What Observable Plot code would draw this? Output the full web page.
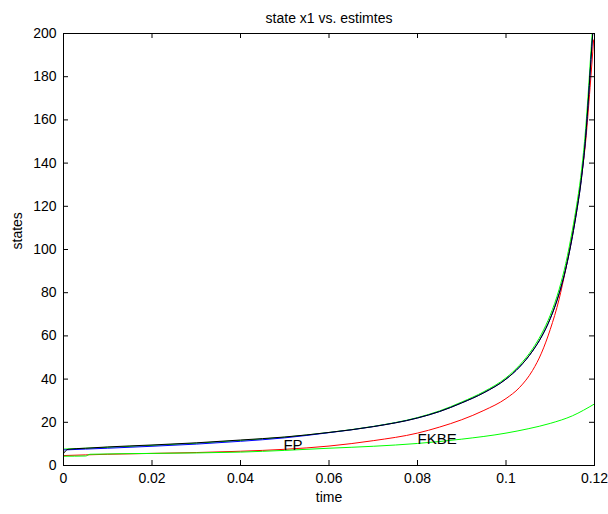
<!DOCTYPE html>
<html>
<head>
<meta charset="utf-8">
<script src="https://cdn.jsdelivr.net/npm/d3@7"></script>
<script src="https://cdn.jsdelivr.net/npm/@observablehq/plot@0.6"></script>
<style>
  html, body { margin: 0; padding: 0; background: #fff; }
  #chart { width: 608px; height: 514px; }
</style>
</head>
<body>
<div id="chart"></div>
<script>
const titleText = "state x1 vs. estimtes";
const xLabel = "time";
const yLabel = "states";
const xTicks = [0, 0.02, 0.04, 0.06, 0.08, 0.1, 0.12];
const xTickLabels = ["0", "0.02", "0.04", "0.06", "0.08", "0.1", "0.12"];
const yTicks = [0, 20, 40, 60, 80, 100, 120, 140, 160, 180, 200];

// true state (black)
const tTrue = [0, 0.001, 0.005, 0.01, 0.02, 0.03, 0.04, 0.05, 0.06, 0.07, 0.08, 0.085, 0.09, 0.095, 0.1, 0.103, 0.106, 0.108, 0.11, 0.112, 0.1135, 0.115, 0.116, 0.117, 0.118, 0.1187, 0.1192, 0.1196];
const vTrue = [5.5, 7.5, 8.0, 8.6, 9.5, 10.5, 11.8, 13.2, 15.3, 18.0, 22.0, 25.0, 29.0, 33.7, 40.0, 45.5, 53.0, 59.5, 68.0, 79.5, 91, 106, 118, 132, 152, 172, 188, 200];

// blue estimate
const tBlue = [0, 0.01, 0.02, 0.03, 0.04, 0.05, 0.06, 0.07, 0.08, 0.085, 0.09, 0.095, 0.1, 0.103, 0.106, 0.108, 0.11, 0.112, 0.1135, 0.115, 0.116, 0.117, 0.118, 0.1187, 0.1192, 0.1196];
const vBlue = [7.2, 8.0, 8.9, 9.9, 11.2, 12.8, 15.2, 18.0, 22.0, 25.0, 29.0, 33.7, 40.0, 45.5, 53.0, 59.5, 68.0, 79.5, 91, 106, 118, 132, 152, 172, 188, 200];

// upper green estimate (FP)
const tFP = [0, 0.01, 0.02, 0.03, 0.04, 0.05, 0.06, 0.07, 0.08, 0.085, 0.09, 0.095, 0.1, 0.103, 0.106, 0.108, 0.11, 0.112, 0.1135, 0.115, 0.116, 0.117, 0.118, 0.1187, 0.1192, 0.1195];
const vFP = [7.6, 8.4, 9.3, 10.3, 11.6, 13.1, 15.3, 18.1, 22.2, 25.3, 29.4, 34.2, 40.6, 46.3, 54.0, 60.8, 69.6, 81.5, 93.5, 109, 121, 135.5, 156, 176, 192, 201];

// red estimate
const tRed = [0, 0.01, 0.02, 0.03, 0.04, 0.05, 0.06, 0.07, 0.08, 0.085, 0.09, 0.095, 0.1, 0.103, 0.106, 0.108, 0.11, 0.112, 0.1135, 0.115, 0.116, 0.117, 0.118, 0.119, 0.1198];
const vRed = [4.6, 5.2, 5.6, 6.0, 6.6, 7.5, 9.0, 11.5, 15.0, 17.8, 21.2, 25.5, 31.0, 36.0, 44.0, 52.0, 63.0, 77.0, 91, 107, 119, 133, 150, 175, 197];

// lower green estimate (FKBE)
const tFKBE = [0, 0.005, 0.006, 0.02, 0.04, 0.05, 0.06, 0.07, 0.08, 0.09, 0.1, 0.105, 0.11, 0.115, 0.12];
const vFKBE = [4.3, 4.4, 5.2, 5.6, 6.2, 7.0, 8.0, 8.9, 10.2, 12.2, 15.0, 17.0, 19.5, 23.0, 28.5];

// annotations
const noteLabels = ["FP", "FKBE"];
const noteX = [0.0497, 0.08];
const noteY = [9.5, 12.3];

const toRows = (ts, vs) => ts.map((t, i) => ({t, v: vs[i]}));
const notes = noteLabels.map((s, i) => ({s, x: noteX[i], y: noteY[i]}));

const font = "Liberation Sans, Arial, Helvetica, sans-serif";
const lineOpts = {x: "t", y: "v", strokeWidth: 1, curve: "monotone-x", clip: true};

const chart = Plot.plot({
  width: 608,
  height: 514,
  marginLeft: 63,
  marginRight: 14,
  marginTop: 33,
  marginBottom: 49,
  style: {fontFamily: font, fontSize: "14px", background: "#fff", color: "#000"},
  x: {domain: [0, 0.12], axis: null},
  y: {domain: [0, 200], axis: null},
  marks: [
    Plot.line(toRows(tRed, vRed), {...lineOpts, stroke: "#ff0000"}),
    Plot.line(toRows(tFKBE, vFKBE), {...lineOpts, stroke: "#00ff00"}),
    Plot.line(toRows(tFP, vFP), {...lineOpts, stroke: "#00ff00"}),
    Plot.line(toRows(tBlue, vBlue), {...lineOpts, stroke: "#0000ff"}),
    Plot.line(toRows(tTrue, vTrue), {...lineOpts, stroke: "#000000"}),
    Plot.text(notes, {x: "x", y: "y", text: "s", textAnchor: "start", fontSize: 15, fill: "#000"}),
    Plot.frame({stroke: "#000", strokeWidth: 1}),
    // inward ticks on all four sides
    Plot.tickX(xTicks, {x: d => d, insetTop: 427, stroke: "#000"}),
    Plot.tickX(xTicks, {x: d => d, insetBottom: 427, stroke: "#000"}),
    Plot.tickY(yTicks, {y: d => d, insetRight: 526, stroke: "#000"}),
    Plot.tickY(yTicks, {y: d => d, insetLeft: 526, stroke: "#000"}),
    // tick labels
    Plot.text(xTicks, {x: d => d, text: (d, i) => xTickLabels[i], frameAnchor: "bottom", lineAnchor: "top", dy: 8, fontSize: 14, fill: "#000"}),
    Plot.text(yTicks, {y: d => d, text: d => String(d), frameAnchor: "left", textAnchor: "end", dx: -7, fontSize: 14, fill: "#000"}),
    // axis labels and title
    Plot.text([xLabel], {frameAnchor: "bottom", dy: 36, fontSize: 14, fill: "#000"}),
    Plot.text([yLabel], {frameAnchor: "left", dx: -46, rotate: -90, fontSize: 14, fill: "#000"}),
    Plot.text([titleText], {frameAnchor: "top", dy: -20, fontSize: 14, fill: "#000"})
  ]
});
document.getElementById("chart").appendChild(chart);
</script>
</body>
</html>
